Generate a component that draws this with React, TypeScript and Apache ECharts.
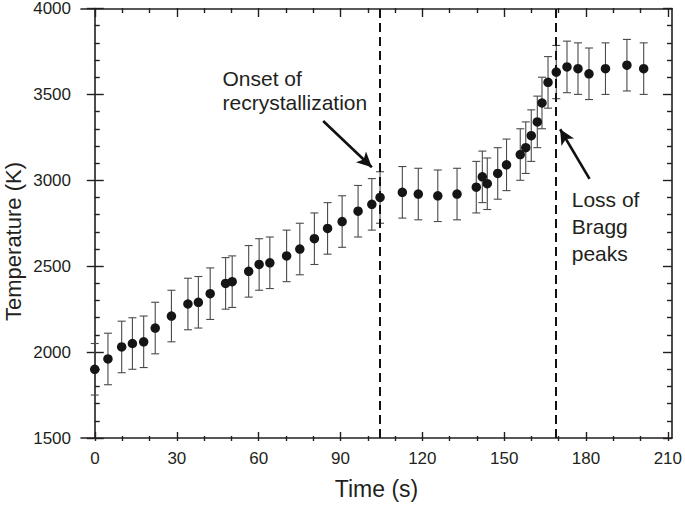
import React, { useEffect, useRef } from "react";
import * as echarts from "echarts";

// ---- data ----
const times = [0, 4.8, 9.8, 13.7, 17.8, 22.0, 27.9, 33.9, 37.7, 42.0, 47.6, 50.0, 56.0, 59.8, 63.7, 69.8, 74.6, 79.9, 84.7, 90.0, 95.8, 100.8, 103.8, 111.9, 117.7, 124.8, 131.8, 138.8, 141.0, 142.8, 146.6, 149.8, 154.8, 156.8, 158.8, 161.0, 162.7, 164.9, 167.9, 171.8, 175.8, 179.8, 185.8, 193.6, 199.7];
const temps = [1900, 1960, 2030, 2050, 2060, 2140, 2210, 2280, 2290, 2340, 2400, 2410, 2470, 2510, 2520, 2560, 2600, 2660, 2720, 2760, 2820, 2860, 2900, 2930, 2920, 2910, 2920, 2960, 3020, 2980, 3040, 3090, 3150, 3190, 3260, 3340, 3450, 3570, 3630, 3660, 3650, 3620, 3650, 3670, 3650];
const errors = [150, 150, 150, 150, 150, 150, 150, 150, 150, 150, 150, 150, 150, 150, 150, 150, 150, 150, 150, 150, 150, 150, 150, 150, 150, 150, 150, 150, 150, 150, 150, 150, 150, 150, 150, 150, 150, 150, 155, 150, 150, 150, 150, 150, 150];
const eventTimes = [103.8, 167.7];
const arrowStarts = [[83.1, 3345], [180.0, 3008]];
const arrowEnds = [[100.8, 3076], [169.3, 3297]];
const xTickRange = [0, 210, 30];
const yTickRange = [1500, 4000, 500];
const xTitle = "Time (s)";
const yTitle = "Temperature (K)";
const note1 = ["Onset of", "recrystallization"];
const note2 = ["Loss of", "Bragg", "peaks"];

const FONT = "'Liberation Sans', Arial, Helvetica, sans-serif";
const INK = "#231f20";

export default function App() {
  const ref = useRef<HTMLDivElement>(null);
  useEffect(() => {
    if (!ref.current) return;
    const chart = echarts.init(ref.current, null, { renderer: "svg" });
    const pts = times.map((t, i) => [t, temps[i]]);
    const bars = times.map((t, i) => [t, temps[i] - errors[i], temps[i] + errors[i]]);
    const gridA = { left: 81, right: 13, top: 8, bottom: 64 };
    const gridB = { left: 95, right: 13, top: 8, bottom: 64 };
    const lineStyle = { color: INK, width: 1.6 };
    const tickStyle = { color: INK, width: 1.4 };
    const plain = (v: number) => String(v);
    const option: any = {
      animation: false,
      backgroundColor: "#fff",
      grid: [gridA, gridB],
      xAxis: [
        {
          gridIndex: 0, type: "value", min: -5, max: 210, position: "bottom",
          axisLine: { show: true, lineStyle }, axisTick: { show: false }, axisLabel: { show: false },
          splitLine: { show: false },
          name: xTitle, nameLocation: "middle", nameGap: 39,
          nameTextStyle: { fontFamily: FONT, fontSize: 23, color: INK },
        },
        {
          gridIndex: 0, type: "value", min: -5, max: 210, position: "top",
          axisLine: { show: true, lineStyle }, axisTick: { show: false }, axisLabel: { show: false },
          splitLine: { show: false },
        },
        {
          gridIndex: 1, type: "value", min: xTickRange[0], max: xTickRange[1], interval: xTickRange[2], position: "bottom",
          axisLine: { show: false },
          axisTick: { show: true, inside: true, length: 9, lineStyle: tickStyle },
          minorTick: { show: true, splitNumber: 3, length: 5, lineStyle: tickStyle },
          axisLabel: { show: true, margin: 9, fontFamily: FONT, fontSize: 17, color: INK, formatter: plain },
          splitLine: { show: false },
        },
        {
          gridIndex: 1, type: "value", min: xTickRange[0], max: xTickRange[1], interval: xTickRange[2], position: "top",
          axisLine: { show: false },
          axisTick: { show: true, inside: true, length: 9, lineStyle: tickStyle },
          minorTick: { show: true, splitNumber: 3, length: 5, lineStyle: tickStyle },
          axisLabel: { show: false },
          splitLine: { show: false },
        },
      ],
      yAxis: [
        {
          gridIndex: 0, type: "value", min: yTickRange[0], max: yTickRange[1], interval: yTickRange[2], position: "left",
          axisLine: { show: true, lineStyle },
          axisTick: { show: true, inside: true, length: 9, lineStyle: tickStyle },
          minorTick: { show: true, splitNumber: 5, length: 5, lineStyle: tickStyle },
          axisLabel: { show: true, margin: 10, fontFamily: FONT, fontSize: 17, color: INK, formatter: plain },
          splitLine: { show: false },
        },
        {
          gridIndex: 0, type: "value", min: yTickRange[0], max: yTickRange[1], interval: yTickRange[2], position: "left",
          axisLine: { show: false },
          axisTick: { show: true, inside: false, length: 8, lineStyle: tickStyle },
          axisLabel: { show: false },
          splitLine: { show: false },
        },
        {
          gridIndex: 0, type: "value", min: yTickRange[0], max: yTickRange[1], interval: yTickRange[2], position: "right",
          axisLine: { show: true, lineStyle },
          axisTick: { show: true, inside: true, length: 9, lineStyle: tickStyle },
          minorTick: { show: true, splitNumber: 5, length: 5, lineStyle: tickStyle },
          axisLabel: { show: false },
          splitLine: { show: false },
        },
        { gridIndex: 1, type: "value", show: false, min: yTickRange[0], max: yTickRange[1] },
      ],
      series: [
        {
          type: "custom",
          xAxisIndex: 0, yAxisIndex: 0,
          data: bars,
          encode: { x: 0, y: [1, 2] },
          z: 2,
          renderItem: (params: any, api: any) => {
            const x = api.value(0);
            const lo = api.coord([x, api.value(1)]);
            const hi = api.coord([x, api.value(2)]);
            const w = 4;
            const st = { stroke: "#4a4a4a", lineWidth: 1.1 };
            return {
              type: "group",
              children: [
                { type: "line", shape: { x1: hi[0], y1: hi[1], x2: lo[0], y2: lo[1] }, style: st },
                { type: "line", shape: { x1: hi[0] - w, y1: hi[1], x2: hi[0] + w, y2: hi[1] }, style: st },
                { type: "line", shape: { x1: lo[0] - w, y1: lo[1], x2: lo[0] + w, y2: lo[1] }, style: st },
              ],
            };
          },
          markLine: {
            silent: true,
            symbol: ["none", "arrow"],
            symbolSize: [11, 15],
            label: { show: false },
            lineStyle: { color: "#111", width: 2.6, type: "solid" },
            data: arrowStarts.map((s, i) => [{ coord: s }, { coord: arrowEnds[i] }]),
          },
        },
        {
          type: "scatter",
          xAxisIndex: 0, yAxisIndex: 0,
          data: pts,
          symbol: "circle",
          symbolSize: 9.5,
          itemStyle: { color: "#151515", opacity: 1 },
          z: 3,
          markLine: {
            silent: true,
            symbol: ["none", "none"],
            label: { show: false },
            lineStyle: { color: "#111", width: 2, type: [9, 5] },
            data: eventTimes.map((t) => ({ xAxis: t })),
          },
        },
      ],
      graphic: [
        {
          type: "text", x: 13, y: 241.5, rotation: Math.PI / 2,
          style: { text: yTitle, fontFamily: FONT, fontSize: 22, fill: INK, align: "center", verticalAlign: "middle" },
        },
        ...note1.map((s, i) => ({
          type: "text", x: 222.5, y: 78 + i * 24,
          style: { text: s, fontFamily: FONT, fontSize: 21, fill: INK, align: "left", verticalAlign: "middle" },
        })),
        ...note2.map((s, i) => ({
          type: "text", x: 571.7, y: 199 + i * 27,
          style: { text: s, fontFamily: FONT, fontSize: 21, fill: INK, align: "left", verticalAlign: "middle" },
        })),
      ],
    };
    chart.setOption(option);
    return () => chart.dispose();
  }, []);
  return (
    <div
      ref={ref}
      style={{ position: "absolute", left: 0, top: 0, width: 685, height: 505, background: "#fff" }}
    />
  );
}
